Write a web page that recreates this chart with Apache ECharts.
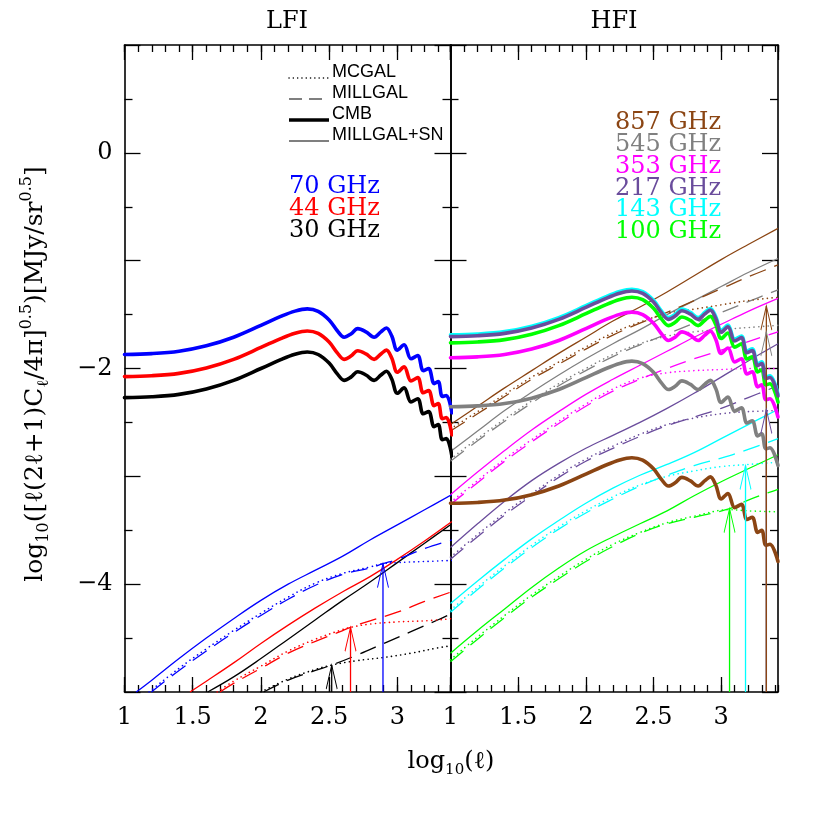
<!DOCTYPE html>
<html><head><meta charset="utf-8">
<script src="https://cdn.jsdelivr.net/npm/echarts@6/dist/echarts.min.js"></script>
<style>html,body{margin:0;padding:0;background:#fff}#c{width:817px;height:817px}</style>
</head><body><div id="c"></div>
<script>
// ---------- tick labels ----------
const xTickLabels = [1, 1.5, 2, 2.5, 3];
const yTickLabels = [0, -2, -4];

// ---------- CMB curves (log10 l , value) ----------
const cmbL = [1.0,1.2,1.4,1.6,1.8,2.0,2.15,2.25,2.34,2.42,2.50,2.56,2.61,2.66,2.71,2.77,2.83,2.88,2.92,2.96,3.00,3.05,3.10,3.15,3.19,3.23,3.27,3.30,3.33,3.36,3.40];
const cmbR = [1.0,1.2,1.4,1.6,1.8,2.0,2.15,2.25,2.34,2.42,2.50,2.56,2.61,2.66,2.71,2.77,2.83,2.88,2.92,2.96,3.00,3.05,3.10,3.15,3.19,3.23,3.27,3.30,3.33,3.36,3.42];
const cmb70  = [-1.870,-1.862,-1.840,-1.790,-1.710,-1.600,-1.515,-1.468,-1.447,-1.470,-1.550,-1.650,-1.710,-1.680,-1.630,-1.660,-1.710,-1.660,-1.625,-1.700,-1.830,-1.780,-1.910,-1.880,-2.020,-2.000,-2.140,-2.120,-2.260,-2.250,-2.410];
const cmb44  = [-2.075,-2.067,-2.045,-1.995,-1.915,-1.805,-1.720,-1.673,-1.652,-1.675,-1.755,-1.855,-1.915,-1.885,-1.835,-1.865,-1.915,-1.865,-1.830,-1.905,-2.035,-1.985,-2.115,-2.085,-2.225,-2.205,-2.345,-2.325,-2.465,-2.455,-2.615];
const cmb30  = [-2.270,-2.262,-2.240,-2.190,-2.110,-2.000,-1.915,-1.868,-1.847,-1.870,-1.950,-2.050,-2.110,-2.080,-2.030,-2.060,-2.110,-2.060,-2.025,-2.100,-2.230,-2.180,-2.310,-2.280,-2.420,-2.400,-2.540,-2.520,-2.660,-2.650,-2.810];
const cmb143 = [-1.688,-1.680,-1.658,-1.608,-1.528,-1.418,-1.333,-1.286,-1.265,-1.288,-1.368,-1.468,-1.528,-1.498,-1.448,-1.478,-1.528,-1.478,-1.443,-1.518,-1.648,-1.598,-1.728,-1.698,-1.838,-1.818,-1.958,-1.938,-2.078,-2.068,-2.238];
const cmb217 = [-1.704,-1.696,-1.674,-1.624,-1.544,-1.434,-1.349,-1.302,-1.281,-1.304,-1.384,-1.484,-1.544,-1.514,-1.464,-1.494,-1.544,-1.494,-1.459,-1.534,-1.664,-1.614,-1.744,-1.714,-1.854,-1.834,-1.974,-1.954,-2.094,-2.084,-2.254];
const cmb100 = [-1.762,-1.754,-1.732,-1.682,-1.602,-1.492,-1.407,-1.360,-1.339,-1.362,-1.442,-1.542,-1.602,-1.572,-1.522,-1.552,-1.602,-1.552,-1.517,-1.592,-1.722,-1.672,-1.802,-1.772,-1.912,-1.892,-2.032,-2.012,-2.152,-2.142,-2.312];
const cmb353 = [-1.900,-1.892,-1.870,-1.820,-1.740,-1.630,-1.545,-1.498,-1.477,-1.500,-1.580,-1.680,-1.740,-1.710,-1.660,-1.690,-1.740,-1.690,-1.655,-1.730,-1.860,-1.810,-1.940,-1.910,-2.050,-2.030,-2.170,-2.150,-2.290,-2.280,-2.450];
const cmb545 = [-2.355,-2.347,-2.325,-2.275,-2.195,-2.085,-2.000,-1.953,-1.932,-1.955,-2.035,-2.135,-2.195,-2.165,-2.115,-2.145,-2.195,-2.145,-2.110,-2.185,-2.315,-2.265,-2.395,-2.365,-2.505,-2.485,-2.625,-2.605,-2.745,-2.735,-2.900];
const cmb857 = [-3.250,-3.242,-3.220,-3.170,-3.090,-2.980,-2.895,-2.848,-2.827,-2.850,-2.930,-3.030,-3.090,-3.060,-3.010,-3.040,-3.090,-3.040,-3.005,-3.080,-3.210,-3.160,-3.290,-3.260,-3.400,-3.380,-3.520,-3.500,-3.640,-3.630,-3.790];

// ---------- LFI foregrounds: sn = MILLGAL+SN, mill = MILLGAL, mc = MCGAL ----------
const sn70   = [[1.086,-5.0],[1.2,-4.89],[1.4,-4.69],[1.6,-4.50],[1.8,-4.32],[2.0,-4.15],[2.2,-4.00],[2.4,-3.87],[2.6,-3.74],[2.8,-3.59],[3.0,-3.45],[3.2,-3.31],[3.4,-3.17]];
const mill70 = [[1.197,-5.0],[1.4,-4.80],[1.6,-4.62],[1.8,-4.45],[2.0,-4.29],[2.2,-4.14],[2.4,-4.01],[2.6,-3.91],[2.8,-3.85],[2.895,-3.81],[3.0,-3.77],[3.2,-3.67],[3.4,-3.59]];
const mc70   = [[1.18,-5.0],[1.4,-4.78],[1.6,-4.60],[1.8,-4.43],[2.0,-4.27],[2.2,-4.12],[2.4,-3.99],[2.6,-3.90],[2.8,-3.84],[2.895,-3.81],[3.0,-3.80],[3.2,-3.79],[3.4,-3.78]];
const sn44   = [[1.48,-5.0],[1.6,-4.90],[1.8,-4.73],[2.0,-4.55],[2.2,-4.38],[2.4,-4.22],[2.6,-4.07],[2.8,-3.93],[3.0,-3.77],[3.2,-3.60],[3.4,-3.42]];
const mill44 = [[1.70,-5.0],[1.8,-4.92],[2.0,-4.78],[2.2,-4.64],[2.4,-4.53],[2.6,-4.43],[2.657,-4.40],[2.8,-4.34],[3.0,-4.26],[3.2,-4.16],[3.4,-4.07]];
const mc44   = [[1.68,-5.0],[1.8,-4.90],[2.0,-4.76],[2.2,-4.62],[2.4,-4.51],[2.6,-4.42],[2.657,-4.40],[2.8,-4.37],[3.0,-4.35],[3.2,-4.34],[3.4,-4.32]];
const sn30   = [[1.61,-5.0],[1.8,-4.86],[2.0,-4.69],[2.2,-4.51],[2.4,-4.33],[2.6,-4.15],[2.8,-3.98],[3.0,-3.80],[3.2,-3.62],[3.4,-3.44]];
const mill30 = [[2.02,-5.0],[2.2,-4.89],[2.4,-4.80],[2.519,-4.75],[2.7,-4.66],[2.9,-4.55],[3.1,-4.44],[3.3,-4.33],[3.4,-4.27]];
const mc30   = [[2.0,-5.0],[2.2,-4.88],[2.4,-4.79],[2.519,-4.75],[2.7,-4.71],[2.9,-4.68],[3.1,-4.64],[3.3,-4.59],[3.4,-4.57]];

// ---------- HFI foregrounds ----------
const sn857   = [[1.0,-2.52],[1.2,-2.35],[1.4,-2.18],[1.6,-2.02],[1.8,-1.86],[2.0,-1.71],[2.2,-1.56],[2.4,-1.43],[2.6,-1.29],[2.8,-1.14],[3.0,-0.99],[3.2,-0.85],[3.42,-0.70]];
const mill857 = [[1.0,-2.58],[1.2,-2.42],[1.4,-2.26],[1.6,-2.10],[1.8,-1.96],[2.0,-1.82],[2.2,-1.69],[2.4,-1.58],[2.6,-1.48],[2.8,-1.37],[3.0,-1.26],[3.2,-1.15],[3.42,-1.04]];
const mc857   = [[1.0,-2.56],[1.2,-2.40],[1.4,-2.24],[1.6,-2.08],[1.8,-1.94],[2.0,-1.80],[2.2,-1.67],[2.4,-1.57],[2.6,-1.49],[2.8,-1.45],[3.0,-1.41],[3.2,-1.37],[3.42,-1.34]];
const sn545   = [[1.0,-2.77],[1.2,-2.58],[1.4,-2.39],[1.6,-2.22],[1.8,-2.06],[2.0,-1.91],[2.2,-1.77],[2.4,-1.64],[2.6,-1.50],[2.8,-1.37],[3.0,-1.24],[3.2,-1.11],[3.42,-0.98]];
const mill545 = [[1.0,-2.86],[1.2,-2.67],[1.4,-2.49],[1.6,-2.32],[1.8,-2.16],[2.0,-2.02],[2.2,-1.89],[2.4,-1.78],[2.6,-1.68],[2.8,-1.58],[3.0,-1.48],[3.2,-1.38],[3.42,-1.27]];
const mc545   = [[1.0,-2.84],[1.2,-2.65],[1.4,-2.47],[1.6,-2.30],[1.8,-2.14],[2.0,-2.00],[2.2,-1.87],[2.4,-1.77],[2.6,-1.70],[2.8,-1.66],[3.0,-1.64],[3.2,-1.62],[3.42,-1.60]];
const sn353   = [[1.0,-3.17],[1.2,-2.96],[1.4,-2.76],[1.6,-2.57],[1.8,-2.40],[2.0,-2.24],[2.2,-2.10],[2.4,-1.97],[2.6,-1.84],[2.8,-1.71],[3.0,-1.59],[3.2,-1.47],[3.42,-1.35]];
const mill353 = [[1.0,-3.26],[1.2,-3.06],[1.4,-2.86],[1.6,-2.68],[1.8,-2.51],[2.0,-2.35],[2.2,-2.21],[2.4,-2.10],[2.6,-2.00],[2.8,-1.91],[3.0,-1.83],[3.2,-1.75],[3.42,-1.66]];
const mc353   = [[1.0,-3.24],[1.2,-3.04],[1.4,-2.84],[1.6,-2.66],[1.8,-2.49],[2.0,-2.33],[2.2,-2.19],[2.4,-2.09],[2.6,-2.04],[2.8,-2.02],[3.0,-2.01],[3.2,-2.00],[3.42,-2.00]];
const sn217   = [[1.0,-3.66],[1.2,-3.44],[1.4,-3.23],[1.6,-3.04],[1.8,-2.88],[2.0,-2.74],[2.2,-2.62],[2.4,-2.50],[2.6,-2.37],[2.8,-2.23],[3.0,-2.08],[3.2,-1.93],[3.42,-1.77]];
const mill217 = [[1.0,-3.77],[1.2,-3.56],[1.4,-3.36],[1.6,-3.18],[1.8,-3.01],[2.0,-2.86],[2.2,-2.74],[2.4,-2.63],[2.6,-2.53],[2.8,-2.45],[3.0,-2.37],[3.2,-2.27],[3.42,-2.16]];
const mc217   = [[1.0,-3.75],[1.2,-3.54],[1.4,-3.34],[1.6,-3.16],[1.8,-2.99],[2.0,-2.84],[2.2,-2.72],[2.4,-2.61],[2.6,-2.52],[2.8,-2.46],[3.0,-2.42],[3.2,-2.40],[3.42,-2.39]];
const sn143   = [[1.0,-4.18],[1.2,-3.97],[1.4,-3.77],[1.6,-3.58],[1.8,-3.41],[2.0,-3.25],[2.2,-3.11],[2.4,-2.99],[2.6,-2.89],[2.8,-2.78],[3.0,-2.65],[3.2,-2.52],[3.42,-2.38]];
const mill143 = [[1.0,-4.26],[1.2,-4.05],[1.4,-3.85],[1.6,-3.66],[1.8,-3.49],[2.0,-3.34],[2.2,-3.21],[2.4,-3.09],[2.6,-2.99],[2.8,-2.90],[3.0,-2.83],[3.2,-2.75],[3.42,-2.65]];
const mc143   = [[1.0,-4.24],[1.2,-4.03],[1.4,-3.83],[1.6,-3.64],[1.8,-3.47],[2.0,-3.32],[2.2,-3.19],[2.4,-3.08],[2.6,-3.00],[2.8,-2.95],[3.0,-2.91],[3.2,-2.89],[3.42,-2.87]];
const sn100   = [[1.0,-4.64],[1.2,-4.43],[1.4,-4.23],[1.6,-4.03],[1.8,-3.85],[2.0,-3.69],[2.2,-3.56],[2.4,-3.44],[2.6,-3.32],[2.8,-3.18],[3.0,-3.05],[3.2,-2.93],[3.42,-2.80]];
const mill100 = [[1.0,-4.72],[1.2,-4.51],[1.4,-4.31],[1.6,-4.12],[1.8,-3.95],[2.0,-3.79],[2.2,-3.65],[2.4,-3.53],[2.6,-3.44],[2.8,-3.38],[3.062,-3.30],[3.2,-3.22],[3.42,-3.12]];
const mc100   = [[1.0,-4.70],[1.2,-4.49],[1.4,-4.29],[1.6,-4.10],[1.8,-3.93],[2.0,-3.77],[2.2,-3.63],[2.4,-3.52],[2.6,-3.43],[2.8,-3.37],[3.062,-3.31],[3.2,-3.32],[3.42,-3.33]];

// ---------- arrows: [log10 l, tip value] ----------
const arrow30 = [2.519,-4.75], arrow44 = [2.657,-4.40], arrow70 = [2.895,-3.81];
const arrow100 = [3.062,-3.30], arrow143 = [3.18,-2.90], arrow217 = [3.334,-2.38], arrow545 = [3.334,-1.66], arrow857 = [3.334,-1.42];

// ---------- labels ----------
const lfiLabels = ['70 GHz','44 GHz','30 GHz'];
const hfiLabels = ['857 GHz','545 GHz','353 GHz','217 GHz','143 GHz','100 GHz'];
const legendNames = ['MCGAL','MILLGAL','CMB','MILLGAL+SN'];

const C = {blue:'#0000ff', red:'#ff0000', black:'#000000', green:'#00ff00', cyan:'#00ffff', magenta:'#ff00ff', purple:'#6a4c9c', gray:'#808080', brown:'#8b4513'};
const SERIF = 'DejaVu Serif';

const chart = echarts.init(document.getElementById('c'), null, {renderer:'canvas'});

function xAxes(g, max, labels) {
  const tl = {color:'#000', width:1.3};
  const base = {type:'value', gridIndex:g, min:1, max:max, splitLine:{show:false}};
  const mk = (pos, major) => Object.assign({}, base, {
    position: pos,
    interval: major ? 0.5 : 0.1,
    axisLine: {show: major, onZero:false, lineStyle:{color:'#000', width:1.6}},
    axisTick: {show:true, inside:true, length: major ? 15 : 7, lineStyle: tl},
    axisLabel: {show: labels && major && pos === 'bottom', showMaxLabel:false, margin:14,
      fontFamily: SERIF, fontSize:24, color:'#000',
      formatter: v => (xTickLabels.indexOf(Math.round(v*10)/10) >= 0 ? String(Math.round(v*10)/10) : '')}
  });
  return [mk('bottom', true), mk('bottom', false), mk('top', true), mk('top', false)];
}
function yAx(g, pos, labels) {
  const tl = {color:'#000', width:1.3};
  return {type:'value', gridIndex:g, position:pos, min:-5, max:1, interval:1,
    axisLine:{show:true, onZero:false, lineStyle:{color:'#000', width:1.6}},
    axisTick:{show:true, inside:true, length:16, lineStyle:tl},
    minorTick:{show:true, splitNumber:2, length:8, lineStyle:tl},
    splitLine:{show:false}, minorSplitLine:{show:false},
    axisLabel:{show:labels, margin:12, fontFamily:SERIF, fontSize:24, color:'#000',
      formatter: v => (yTickLabels.indexOf(v) >= 0 ? (v < 0 ? '\u2212' + Math.abs(v) : String(v)) : '')}};
}

const STY = {
  cmb: {width:3.6, type:'solid', cap:'round'},
  sn: {width:1.3, type:'solid', cap:'butt'},
  mill: {width:1.3, type:[17,9], cap:'butt'},
  mc: {width:1.6, type:[0.1,4.6], cap:'round'}
};
function ser(side, data, color, kind) {
  const s = STY[kind];
  return {type:'line', xAxisIndex: side ? 4 : 0, yAxisIndex: side ? 2 : 0, data: data,
    showSymbol:false, symbol:'none', smooth: kind === 'cmb' ? 0.35 : 0.4,
    lineStyle:{color:color, width:s.width, type:s.type, cap:s.cap, join:'round'},
    z: kind === 'cmb' ? 3 : 2, silent:true, animation:false};
}
function cmb(side, xs, ys, color) {
  return ser(side, xs.map((x, i) => [x, ys[i]]), color, 'cmb');
}
const ARROW = 'path://M0,24L6,0L12,24';
function arr(side, pt, color) {
  return {type:'line', xAxisIndex: side ? 4 : 0, yAxisIndex: side ? 2 : 0,
    data:[{value:[pt[0], -5], symbol:'none'}, {value:pt, symbol:ARROW, symbolSize:[11,24], symbolOffset:[0,'50%']}],
    showSymbol:true, showAllSymbol:true, symbol:ARROW, symbolSize:[11,24],
    lineStyle:{color:color, width:1.3},
    itemStyle:{color:'rgba(0,0,0,0)', borderColor:color, borderWidth:1.3},
    z:4, silent:true, animation:false};
}

const series = [
  // LFI
  ser(0, mc30, C.black, 'mc'), ser(0, mill30, C.black, 'mill'), ser(0, sn30, C.black, 'sn'),
  ser(0, mc44, C.red, 'mc'), ser(0, mill44, C.red, 'mill'), ser(0, sn44, C.red, 'sn'),
  ser(0, mc70, C.blue, 'mc'), ser(0, mill70, C.blue, 'mill'), ser(0, sn70, C.blue, 'sn'),
  cmb(0, cmbL, cmb30, C.black), cmb(0, cmbL, cmb44, C.red), cmb(0, cmbL, cmb70, C.blue),
  arr(0, arrow30, C.black), arr(0, arrow44, C.red), arr(0, arrow70, C.blue),
  // HFI
  ser(1, mc100, C.green, 'mc'), ser(1, mill100, C.green, 'mill'), ser(1, sn100, C.green, 'sn'),
  ser(1, mc143, C.cyan, 'mc'), ser(1, mill143, C.cyan, 'mill'), ser(1, sn143, C.cyan, 'sn'),
  ser(1, mc217, C.purple, 'mc'), ser(1, mill217, C.purple, 'mill'), ser(1, sn217, C.purple, 'sn'),
  ser(1, mc353, C.magenta, 'mc'), ser(1, mill353, C.magenta, 'mill'), ser(1, sn353, C.magenta, 'sn'),
  ser(1, mc545, C.gray, 'mc'), ser(1, mill545, C.gray, 'mill'), ser(1, sn545, C.gray, 'sn'),
  ser(1, mc857, C.brown, 'mc'), ser(1, mill857, C.brown, 'mill'), ser(1, sn857, C.brown, 'sn'),
  cmb(1, cmbR, cmb857, C.brown), cmb(1, cmbR, cmb545, C.gray), cmb(1, cmbR, cmb353, C.magenta),
  cmb(1, cmbR, cmb100, C.green), cmb(1, cmbR, cmb143, C.cyan), cmb(1, cmbR, cmb217, C.purple),
  arr(1, arrow100, C.green), arr(1, arrow143, C.cyan), arr(1, arrow217, C.purple), arr(1, arrow545, C.gray), arr(1, arrow857, C.brown)
];

// graphic texts
const graphics = [];
function txt(x, y, text, color, font, size, align, extra) {
  graphics.push(Object.assign({type:'text', x:x, y:y, silent:true, z:10,
    style:{text:text, fill:color, fontFamily:font, fontSize:size, align:align || 'left', verticalAlign:'middle', textAlign:align || 'left', textVerticalAlign:'middle'}}, extra || {}));
}
txt(287, 22, 'LFI', '#000', SERIF, 24, 'center');
txt(614, 22, 'HFI', '#000', SERIF, 24, 'center');
const lfiColors = [C.blue, C.red, C.black];
lfiLabels.forEach((t, i) => txt(289, 187 + i * 22, t, lfiColors[i], SERIF, 24, 'left'));
const hfiColors = [C.brown, C.gray, C.magenta, C.purple, C.cyan, C.green];
hfiLabels.forEach((t, i) => txt(615, 123 + i * 21.8, t, hfiColors[i], SERIF, 24, 'left'));
// legend
const legY = [72, 93, 114, 135];
const legStyle = [
  {lineWidth:1.5, lineDash:[0.1,4.2], lineCap:'round'},
  {lineWidth:1.2, lineDash:[13,7]},
  {lineWidth:3.4},
  {lineWidth:1.2}
];
legendNames.forEach((t, i) => {
  graphics.push({type:'line', silent:true, z:10, shape:{x1:289, y1:legY[i] + 6, x2:329, y2:legY[i] + 6},
    style:Object.assign({stroke:'#000'}, legStyle[i])});
  txt(332, legY[i], t, '#000', 'Liberation Sans', 18, 'left');
});
// axis titles
const richT = {
  n:{fontFamily:SERIF, fontSize:25, lineHeight:33, verticalAlign:'middle', fill:'#000', color:'#000'},
  s:{fontFamily:SERIF, fontSize:16, lineHeight:15, verticalAlign:'bottom', fill:'#000', color:'#000'},
  p:{fontFamily:SERIF, fontSize:16, lineHeight:15, verticalAlign:'top', fill:'#000', color:'#000'}
};
const richX = {
  n:{fontFamily:SERIF, fontSize:24, lineHeight:32, verticalAlign:'middle', fill:'#000', color:'#000'},
  s:{fontFamily:SERIF, fontSize:15, lineHeight:14, verticalAlign:'bottom', fill:'#000', color:'#000'}
};
graphics.push({type:'text', x:451, y:762, silent:true, z:10,
  style:{text:'{n|log}{s|10}{n|(ℓ)}', rich:richX, align:'center', verticalAlign:'middle', textAlign:'center', textVerticalAlign:'middle'}});
graphics.push({type:'text', x:35, y:374, rotation:Math.PI/2, silent:true, z:10,
  style:{text:'{n|log}{s|10}{n|([ℓ(2ℓ+1)C}{s|ℓ}{n|/4π]}{p|0.5}{n|)[MJy/sr}{p|0.5}{n|]}', rich:richT, align:'center', verticalAlign:'middle', textAlign:'center', textVerticalAlign:'middle'}});

const option = {
  animation:false,
  backgroundColor:'#ffffff',
  grid:[
    {left:124.5, top:45, width:326, height:647, containLabel:false, outerBoundsMode:'none'},
    {left:450.5, top:45, width:327.5, height:647, containLabel:false, outerBoundsMode:'none'}
  ],
  xAxis: [].concat(xAxes(0, 3.39, true), xAxes(1, 3.42, true)),
  yAxis: [yAx(0, 'left', true), yAx(0, 'right', false), yAx(1, 'left', false), yAx(1, 'right', false)],
  series: series,
  graphic: graphics
};
chart.setOption(option);
</script></body></html>
